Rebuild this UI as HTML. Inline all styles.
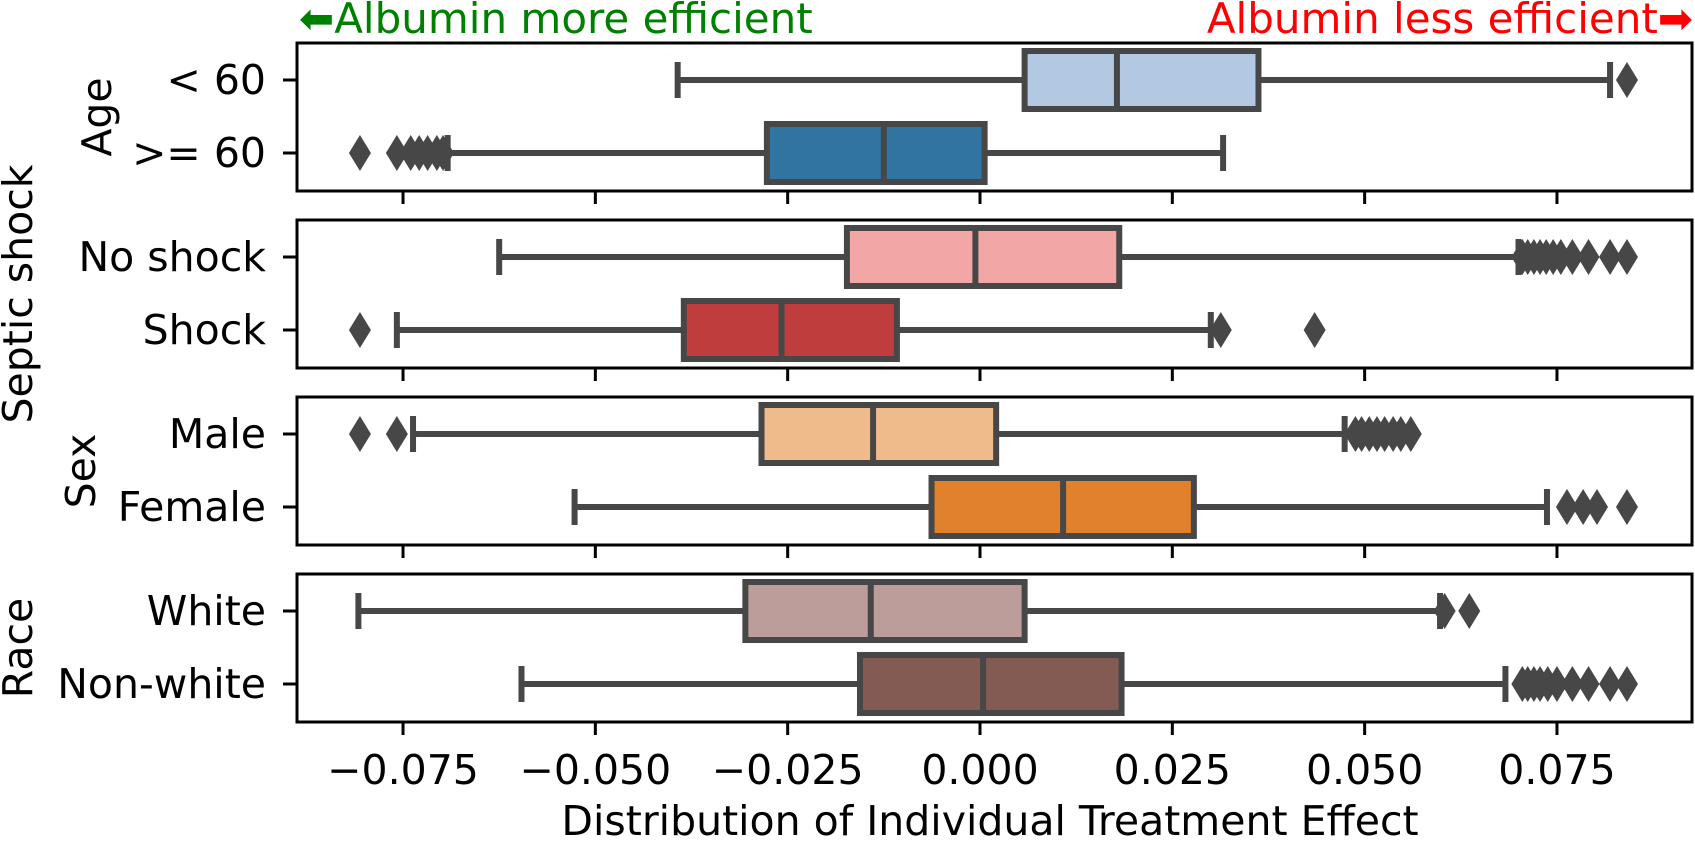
<!DOCTYPE html>
<html><head><meta charset="utf-8">
<style>
html,body{margin:0;padding:0;background:#fff;}
svg{display:block;font-family:"DejaVu Sans","Liberation Sans",sans-serif;}
</style></head>
<body>
<svg id="chart" width="1695" height="841" viewBox="0 0 1695 841" xmlns="http://www.w3.org/2000/svg">
<text x="299" y="33" font-size="42" fill="#008000">⬅Albumin more efficient</text>
<text x="1693" y="33" font-size="42" fill="#ff0000" text-anchor="end">Albumin less efficient➡</text>
<text x="990" y="835" font-size="41" text-anchor="middle">Distribution of Individual Treatment Effect</text>
<g id="plot"></g>
</svg>
<script>
const groups = ["Age", "Septic shock", "Sex", "Race"];
const categories = [["< 60", ">= 60"], ["No shock", "Shock"], ["Male", "Female"], ["White", "Non-white"]];
const whiskerLow = [[-0.0393, -0.0692], [-0.0625, -0.0758], [-0.0737, -0.0527], [-0.0808, -0.0596]];
const q1 = [[0.0058, -0.0277], [-0.0173, -0.0385], [-0.0284, -0.0063], [-0.0305, -0.0156]];
const median = [[0.0178, -0.0125], [-0.0006, -0.0258], [-0.0139, 0.0108], [-0.0142, 0.0004]];
const q3 = [[0.0362, 0.0006], [0.0181, -0.0108], [0.0021, 0.0278], [0.0058, 0.0184]];
const whiskerHigh = [[0.0819, 0.0316], [0.0700, 0.0300], [0.0474, 0.0737], [0.0598, 0.0683]];
const outliers = [
  [[0.0841], [-0.0806, -0.0758, -0.0740, -0.0729, -0.0718, -0.0706, -0.0698]],
  [[0.0705, 0.0712, 0.0720, 0.0728, 0.0736, 0.0745, 0.0755, 0.0770, 0.0791, 0.0819, 0.0841], [-0.0806, 0.0313, 0.0435]],
  [[-0.0806, -0.0758, 0.0488, 0.0496, 0.0506, 0.0516, 0.0526, 0.0537, 0.0547, 0.0560], [0.0763, 0.0784, 0.0802, 0.0841]],
  [[0.0604, 0.0636], [0.0705, 0.0712, 0.0720, 0.0728, 0.0738, 0.0750, 0.0770, 0.0791, 0.0819, 0.0841]]
];
const boxColors = [["#b3c8e2", "#3274a1"], ["#f2a6a5", "#c03d3e"], ["#efbb8a", "#e1812c"], ["#bc9d99", "#845b53"]];
const xTicks = [-0.075, -0.05, -0.025, 0, 0.025, 0.05, 0.075];
const xTickLabels = ["\u22120.075", "\u22120.050", "\u22120.025", "0.000", "0.025", "0.050", "0.075"];

const X0 = 980, XS = 7693;
function xScale(v){ return X0 + v * XS; }
const PL = 297, PR = 1692, PH = 148;
const panelTops = [43, 220, 397, 574];
const groupLabelX = [97, 18, 81, 18];
const NS = "http://www.w3.org/2000/svg";
const plot = document.getElementById("plot");
function mk(tag, attrs, parent){ const e = document.createElementNS(NS, tag); for (const k in attrs) e.setAttribute(k, attrs[k]); (parent||plot).appendChild(e); return e; }
const EDGE = "#474747";

groups.forEach((g, gi) => {
  const top = panelTops[gi];
  const pg = mk("g", {});
  
  
  const frame = mk("rect", {x: PL, y: top, width: PR - PL, height: PH, fill: "none", stroke: "#000", "stroke-width": 3}, pg);
  
  
  xTicks.forEach((t, ti) => {
    const tk = mk("line", {x1: xScale(t), x2: xScale(t), y1: top + PH, y2: top + PH + 13, stroke: "#000", "stroke-width": 3}, pg);
    
    
    if (gi === 3) {
      const tl = mk("text", {x: xScale(t), y: top + PH + 62, "font-size": 41, "text-anchor": "middle"}, pg);
      tl.textContent = xTickLabels[ti];
      
      
    }
  });
  const gl = mk("text", {x: 0, y: 0, "font-size": 41, "text-anchor": "middle", "dominant-baseline": "central", transform: "translate(" + groupLabelX[gi] + "," + (top + PH / 2) + ") rotate(-90)"}, pg);
  gl.textContent = g;
  
  
  categories[gi].forEach((c, ci) => {
    const cy = top + 37 + ci * 73;
    const rg = mk("g", {}, pg);
    
    
    const yt = mk("line", {x1: PL - 14, x2: PL, y1: cy, y2: cy, stroke: "#000", "stroke-width": 3}, rg);
    
    
    const lab = mk("text", {x: 266, y: cy, "font-size": 41, "text-anchor": "end", "dominant-baseline": "central"}, rg);
    lab.textContent = c;
    
    
    const wl = mk("line", {x1: xScale(whiskerLow[gi][ci]), x2: xScale(q1[gi][ci]), y1: cy, y2: cy, stroke: EDGE, "stroke-width": 6}, rg);
    
    
    const wh = mk("line", {x1: xScale(q3[gi][ci]), x2: xScale(whiskerHigh[gi][ci]), y1: cy, y2: cy, stroke: EDGE, "stroke-width": 6}, rg);
    
    
    [whiskerLow[gi][ci], whiskerHigh[gi][ci]].forEach(v => {
      const cap = mk("line", {x1: xScale(v), x2: xScale(v), y1: cy - 18, y2: cy + 18, stroke: EDGE, "stroke-width": 6}, rg);
      
      
    });
    const bx = mk("rect", {x: xScale(q1[gi][ci]), y: cy - 29, width: xScale(q3[gi][ci]) - xScale(q1[gi][ci]), height: 58, fill: boxColors[gi][ci], stroke: EDGE, "stroke-width": 6}, rg);
    
    
    const md = mk("line", {x1: xScale(median[gi][ci]), x2: xScale(median[gi][ci]), y1: cy - 29, y2: cy + 29, stroke: EDGE, "stroke-width": 6}, rg);
    
    
    outliers[gi][ci].forEach(v => {
      const px = xScale(v);
      const d = mk("polygon", {points: (px - 11) + "," + cy + " " + px + "," + (cy - 18) + " " + (px + 11) + "," + cy + " " + px + "," + (cy + 18), fill: "#474747"}, rg);
      
      
    });
  });
});
</script>
</body></html>
